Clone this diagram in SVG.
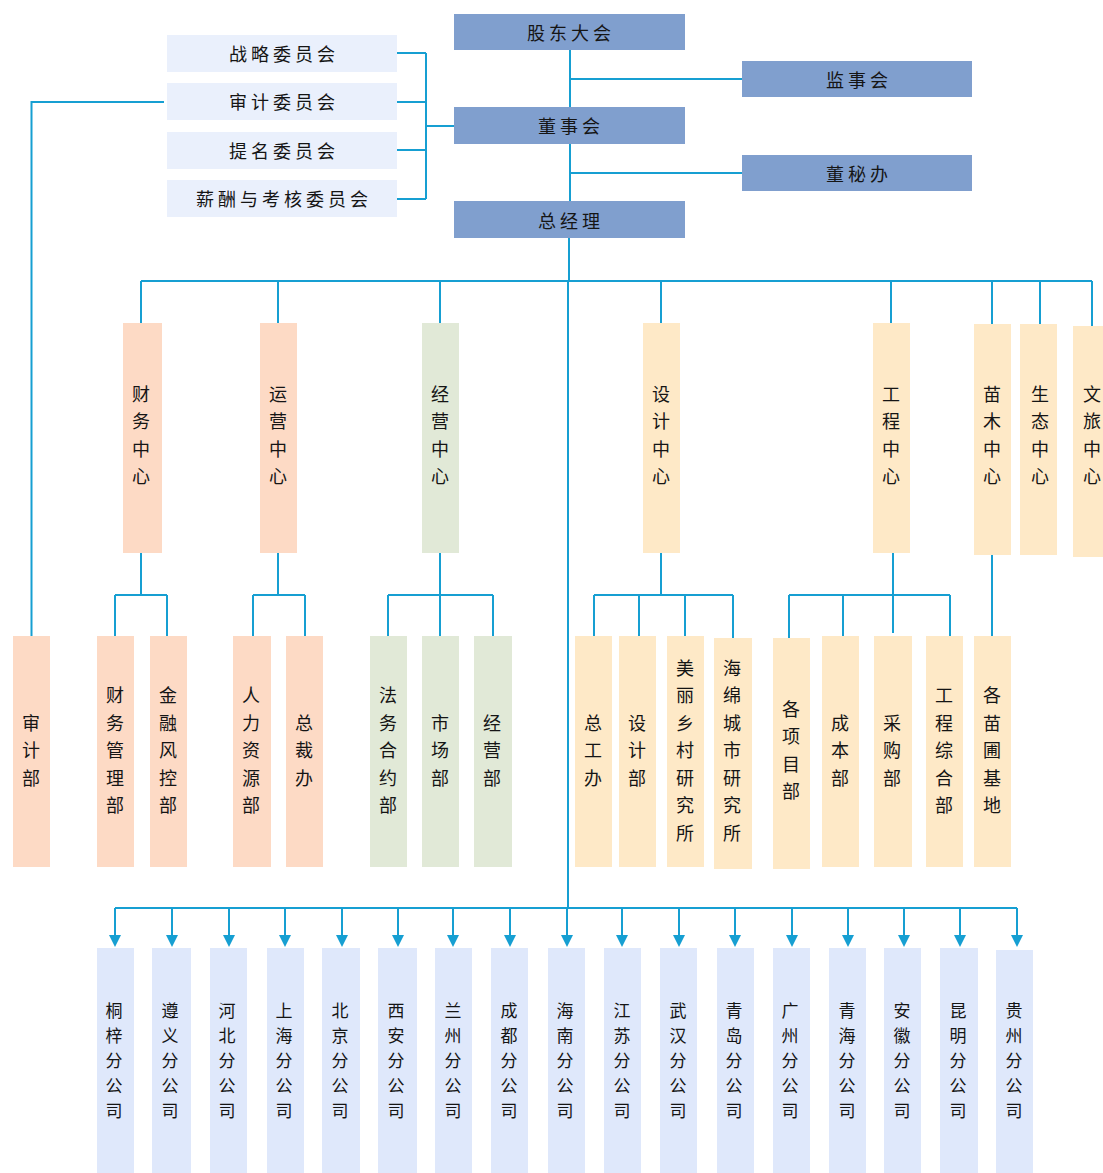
<svg xmlns="http://www.w3.org/2000/svg" width="1103" height="1173" viewBox="0 0 1103 1173">
<defs>
<style>
text{font-family:"Noto Sans CJK SC","Noto Sans",sans-serif;fill:#151515;font-size:18px}
.h{text-anchor:middle;dominant-baseline:central;letter-spacing:4px}
.v{writing-mode:vertical-rl;text-anchor:middle;letter-spacing:9.5px}
.vb{writing-mode:vertical-rl;text-anchor:middle;letter-spacing:8px;font-size:17px}
.top{fill:#809fce}
.cm{fill:#eaf0fc}
.pe{fill:#fddac5}
.gr{fill:#e1e9d7}
.or{fill:#fee9c7}
.bl{fill:#dfe8fb}
.ln{fill:none;stroke:#169fd2;stroke-width:2}
</style>
<marker id="ar" markerUnits="userSpaceOnUse" markerWidth="12" markerHeight="12" viewBox="0 0 12 12" refX="0" refY="6" orient="auto"><path d="M0,0L12,6L0,12z" fill="#169fd2"/></marker>
</defs>
<rect width="1103" height="1173" fill="#fff"/>
<g id="connectors" class="ln">
<path d="M397 53H426M397 102H426M397 150H426M397 199H426M426 53V199M426 126H454"/>
<path d="M164 102H31.5V636"/>
<path d="M570 50V201M570 79H742M570 173H742"/>
<path d="M569 238V281M568 281V908"/>
<path d="M141 281H1092M141 281V323M278 281V323M440 281V323M661 281V323M891 281V323M992 281V324M1040 281V324M1092 281V326"/>
<path d="M141 553V595M115 595H167M115 595V636M167 595V636"/>
<path d="M278 553V595M253 595H305M253 595V636M305 595V636"/>
<path d="M440 553V595M388 595H493M388 595V636M440 595V636M493 595V636"/>
<path d="M661 553V595M594 595H733M594 595V636M639 595V636M685 595V636M733 595V638"/>
<path d="M893 553V595M789 595H950M789 595V638M843 595V636M893 595V633M950 595V636"/>
<path d="M992 555V636"/>
<path d="M115 908H1017"/>
<g marker-end="url(#ar)">
<path d="M115 908V935"/><path d="M172 908V935"/><path d="M229 908V935"/><path d="M285 908V935"/><path d="M342 908V935"/><path d="M398 908V935"/><path d="M453 908V935"/><path d="M510 908V935"/><path d="M567 908V935"/><path d="M622 908V935"/><path d="M679 908V935"/><path d="M735 908V935"/><path d="M792 908V935"/><path d="M848 908V935"/><path d="M904 908V935"/><path d="M960 908V935"/><path d="M1017 908V935"/>
</g>
</g>
<g id="n-gudong"><rect class="top" x="454" y="14" width="231" height="36"/><text class="h" x="571" y="32">股东大会</text></g>
<g id="n-jianshi"><rect class="top" x="742" y="61" width="230" height="36"/><text class="h" x="859" y="79">监事会</text></g>
<g id="n-dongshi"><rect class="top" x="454" y="107" width="231" height="37"/><text class="h" x="571" y="125">董事会</text></g>
<g id="n-dongmi"><rect class="top" x="742" y="155" width="230" height="36"/><text class="h" x="859" y="173">董秘办</text></g>
<g id="n-zongjingli"><rect class="top" x="454" y="201" width="231" height="37"/><text class="h" x="571" y="220">总经理</text></g>
<g id="n-zhanlue"><rect class="cm" x="167" y="35" width="230" height="37"/><text class="h" x="284" y="53">战略委员会</text></g>
<g id="n-shenji-wy"><rect class="cm" x="167" y="83" width="230" height="37"/><text class="h" x="284" y="101">审计委员会</text></g>
<g id="n-timing"><rect class="cm" x="167" y="132" width="230" height="37"/><text class="h" x="284" y="150">提名委员会</text></g>
<g id="n-xinchou"><rect class="cm" x="167" y="180" width="230" height="37"/><text class="h" x="284" y="198">薪酬与考核委员会</text></g>

<g id="n-caiwu-zx"><rect class="pe" x="123" y="323" width="39" height="230"/><text class="v" x="141" y="440">财务中心</text></g>
<g id="n-yunying-zx"><rect class="pe" x="260" y="323" width="37" height="230"/><text class="v" x="278" y="440">运营中心</text></g>
<g id="n-jingying-zx"><rect class="gr" x="422" y="323" width="37" height="230"/><text class="v" x="440" y="440">经营中心</text></g>
<g id="n-sheji-zx"><rect class="or" x="643" y="323" width="37" height="230"/><text class="v" x="661" y="440">设计中心</text></g>
<g id="n-gongcheng-zx"><rect class="or" x="873" y="323" width="37" height="230"/><text class="v" x="891" y="440">工程中心</text></g>
<g id="n-miaomu-zx"><rect class="or" x="974" y="324" width="37" height="231"/><text class="v" x="992" y="440">苗木中心</text></g>
<g id="n-shengtai-zx"><rect class="or" x="1020" y="324" width="37" height="231"/><text class="v" x="1040" y="440">生态中心</text></g>
<g id="n-wenlv-zx"><rect class="or" x="1073" y="326" width="37" height="231"/><text class="v" x="1092" y="440">文旅中心</text></g>

<g id="n-shenji"><rect class="pe" x="13" y="636" width="37" height="231"/><text class="v" x="31" y="755">审计部</text></g>
<g id="n-caiwuguanli"><rect class="pe" x="97" y="636" width="37" height="231"/><text class="v" x="115" y="755">财务管理部</text></g>
<g id="n-jinrong"><rect class="pe" x="150" y="636" width="37" height="231"/><text class="v" x="168" y="755">金融风控部</text></g>
<g id="n-renli"><rect class="pe" x="233" y="636" width="38" height="231"/><text class="v" x="251" y="755">人力资源部</text></g>
<g id="n-zongcai"><rect class="pe" x="286" y="636" width="37" height="231"/><text class="v" x="304" y="755">总裁办</text></g>
<g id="n-fawu"><rect class="gr" x="370" y="636" width="37" height="231"/><text class="v" x="388" y="755">法务合约部</text></g>
<g id="n-shichang"><rect class="gr" x="422" y="636" width="37" height="231"/><text class="v" x="440" y="755">市场部</text></g>
<g id="n-jingying"><rect class="gr" x="474" y="636" width="38" height="231"/><text class="v" x="492" y="755">经营部</text></g>
<g id="n-zonggong"><rect class="or" x="575" y="636" width="37" height="231"/><text class="v" x="593" y="755">总工办</text></g>
<g id="n-sheji"><rect class="or" x="619" y="636" width="37" height="231"/><text class="v" x="637" y="755">设计部</text></g>
<g id="n-meili"><rect class="or" x="667" y="636" width="37" height="231"/><text class="v" x="685" y="755">美丽乡村研究所</text></g>
<g id="n-haimian"><rect class="or" x="714" y="638" width="38" height="231"/><text class="v" x="732" y="755">海绵城市研究所</text></g>
<g id="n-xiangmu"><rect class="or" x="773" y="638" width="37" height="231"/><text class="v" x="791" y="755">各项目部</text></g>
<g id="n-chengben"><rect class="or" x="822" y="636" width="37" height="231"/><text class="v" x="840" y="755">成本部</text></g>
<g id="n-caigou"><rect class="or" x="874" y="636" width="38" height="231"/><text class="v" x="892" y="755">采购部</text></g>
<g id="n-gczonghe"><rect class="or" x="926" y="636" width="37" height="231"/><text class="v" x="944" y="755">工程综合部</text></g>
<g id="n-miaopu"><rect class="or" x="974" y="636" width="37" height="231"/><text class="v" x="992" y="755">各苗圃基地</text></g>

<g id="n-tongzi"><rect class="bl" x="97" y="948" width="37" height="225"/><text class="vb" x="114" y="1065">桐梓分公司</text></g>
<g id="n-zunyi"><rect class="bl" x="152" y="948" width="39" height="225"/><text class="vb" x="170" y="1065">遵义分公司</text></g>
<g id="n-hebei"><rect class="bl" x="210" y="948" width="37" height="225"/><text class="vb" x="227" y="1065">河北分公司</text></g>
<g id="n-shanghai"><rect class="bl" x="267" y="948" width="37" height="225"/><text class="vb" x="284" y="1065">上海分公司</text></g>
<g id="n-beijing"><rect class="bl" x="322" y="948" width="38" height="225"/><text class="vb" x="340" y="1065">北京分公司</text></g>
<g id="n-xian"><rect class="bl" x="378" y="948" width="39" height="225"/><text class="vb" x="396" y="1065">西安分公司</text></g>
<g id="n-lanzhou"><rect class="bl" x="435" y="948" width="37" height="225"/><text class="vb" x="453" y="1065">兰州分公司</text></g>
<g id="n-chengdu"><rect class="bl" x="491" y="948" width="37" height="225"/><text class="vb" x="509" y="1065">成都分公司</text></g>
<g id="n-hainan"><rect class="bl" x="548" y="948" width="37" height="225"/><text class="vb" x="565" y="1065">海南分公司</text></g>
<g id="n-jiangsu"><rect class="bl" x="604" y="948" width="37" height="225"/><text class="vb" x="622" y="1065">江苏分公司</text></g>
<g id="n-wuhan"><rect class="bl" x="660" y="948" width="37" height="225"/><text class="vb" x="678" y="1065">武汉分公司</text></g>
<g id="n-qingdao"><rect class="bl" x="717" y="948" width="37" height="225"/><text class="vb" x="734" y="1065">青岛分公司</text></g>
<g id="n-guangzhou"><rect class="bl" x="773" y="948" width="37" height="225"/><text class="vb" x="790" y="1065">广州分公司</text></g>
<g id="n-qinghai"><rect class="bl" x="829" y="948" width="37" height="225"/><text class="vb" x="847" y="1065">青海分公司</text></g>
<g id="n-anhui"><rect class="bl" x="884" y="948" width="37" height="225"/><text class="vb" x="902" y="1065">安徽分公司</text></g>
<g id="n-kunming"><rect class="bl" x="940" y="948" width="38" height="225"/><text class="vb" x="958" y="1065">昆明分公司</text></g>
<g id="n-guizhou"><rect class="bl" x="996" y="950" width="37" height="223"/><text class="vb" x="1014" y="1065">贵州分公司</text></g>
</svg>
